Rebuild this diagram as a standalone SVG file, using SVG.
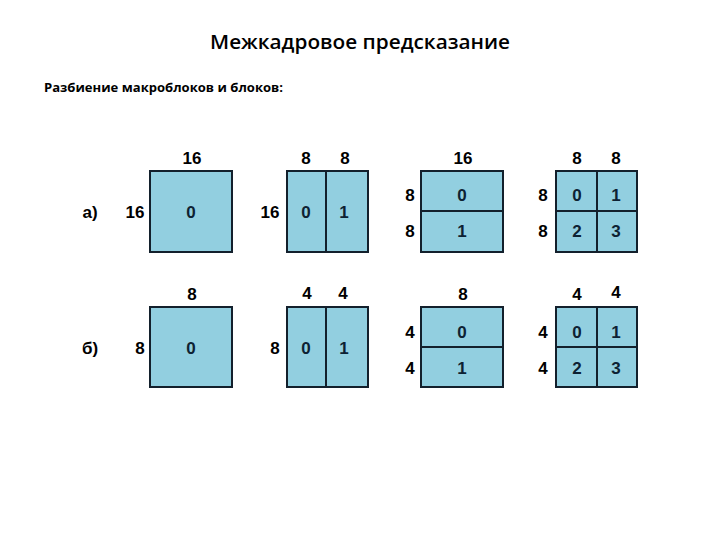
<svg xmlns="http://www.w3.org/2000/svg" width="720" height="540" viewBox="0 0 720 540">
<style>
.blk{fill:#92cfe0;stroke:#13202c;stroke-width:2}
.div{stroke:#13202c;stroke-width:2;fill:none}
.n{font-family:"Liberation Sans",Arial,sans-serif;font-weight:bold;font-size:17px;fill:#000;text-anchor:middle}
.c{font-family:"Liberation Sans",Arial,sans-serif;font-weight:bold;font-size:17px;fill:#0d2233;text-anchor:middle}
.t{font-family:"Open Sans","Noto Sans",sans-serif;fill:#000}
</style>
<rect width="720" height="540" fill="#fff"/>
<text class="t" x="360" y="49" font-size="20" font-weight="600" text-anchor="middle" textLength="300" lengthAdjust="spacingAndGlyphs">Межкадровое предсказание</text>
<text class="t" x="44" y="92" font-size="13" font-weight="bold" textLength="239" lengthAdjust="spacingAndGlyphs">Разбиение макроблоков и блоков:</text>

<g id="labels">
<text class="n" x="90" y="218">а)</text>
<text class="n" x="90" y="354">б)</text>
</g>

<g id="a1">
<rect class="blk" x="150" y="171" width="82" height="81"/>
<text class="n" x="192" y="164">16</text>
<text class="n" x="135" y="218">16</text>
<text class="c" x="191" y="218">0</text>
</g>
<g id="a2">
<rect class="blk" x="287" y="171" width="81" height="81"/>
<line class="div" x1="326" y1="171" x2="326" y2="252"/>
<text class="n" x="306" y="164">8</text>
<text class="n" x="345" y="164">8</text>
<text class="n" x="270" y="218">16</text>
<text class="c" x="306" y="218">0</text>
<text class="c" x="344" y="218">1</text>
</g>
<g id="a3">
<rect class="blk" x="421" y="171" width="82" height="81"/>
<line class="div" x1="421" y1="211" x2="503" y2="211"/>
<text class="n" x="463" y="164">16</text>
<text class="n" x="410" y="201">8</text>
<text class="n" x="410" y="237">8</text>
<text class="c" x="462" y="201">0</text>
<text class="c" x="462" y="237">1</text>
</g>
<g id="a4">
<rect class="blk" x="556" y="171" width="81" height="81"/>
<line class="div" x1="597" y1="171" x2="597" y2="252"/>
<line class="div" x1="556" y1="211" x2="637" y2="211"/>
<text class="n" x="577" y="164">8</text>
<text class="n" x="616" y="164">8</text>
<text class="n" x="543" y="201">8</text>
<text class="n" x="543" y="237">8</text>
<text class="c" x="577" y="201">0</text>
<text class="c" x="616" y="201">1</text>
<text class="c" x="577" y="237">2</text>
<text class="c" x="616" y="237">3</text>
</g>

<g id="b1">
<rect class="blk" x="150" y="307" width="82" height="80"/>
<text class="n" x="192" y="300">8</text>
<text class="n" x="140" y="354">8</text>
<text class="c" x="191" y="354">0</text>
</g>
<g id="b2">
<rect class="blk" x="287" y="307" width="81" height="80"/>
<line class="div" x1="326" y1="307" x2="326" y2="387"/>
<text class="n" x="307" y="299">4</text>
<text class="n" x="343" y="299">4</text>
<text class="n" x="275" y="354">8</text>
<text class="c" x="306" y="354">0</text>
<text class="c" x="344" y="354">1</text>
</g>
<g id="b3">
<rect class="blk" x="421" y="307" width="82" height="80"/>
<line class="div" x1="421" y1="347" x2="503" y2="347"/>
<text class="n" x="463" y="300">8</text>
<text class="n" x="410" y="338">4</text>
<text class="n" x="410" y="374">4</text>
<text class="c" x="462" y="338">0</text>
<text class="c" x="462" y="374">1</text>
</g>
<g id="b4">
<rect class="blk" x="556" y="307" width="81" height="80"/>
<line class="div" x1="597" y1="307" x2="597" y2="387"/>
<line class="div" x1="556" y1="347" x2="637" y2="347"/>
<text class="n" x="577" y="300">4</text>
<text class="n" x="616" y="298">4</text>
<text class="n" x="543" y="338">4</text>
<text class="n" x="543" y="374">4</text>
<text class="c" x="577" y="338">0</text>
<text class="c" x="616" y="338">1</text>
<text class="c" x="577" y="374">2</text>
<text class="c" x="616" y="374">3</text>
</g>
<g id="connectors"/>
</svg>
